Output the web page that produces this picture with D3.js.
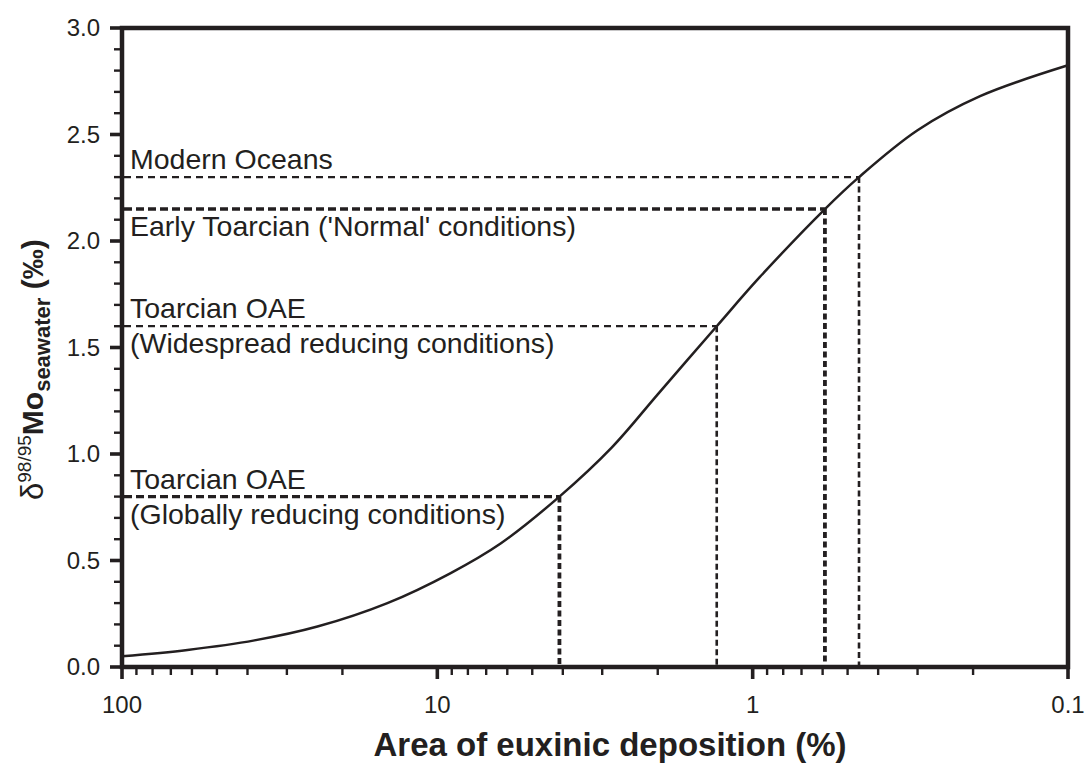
<!DOCTYPE html>
<html>
<head>
<meta charset="utf-8">
<script src="https://cdn.jsdelivr.net/npm/d3@7"></script>
<style>
  body { margin: 0; background: #fff; }
  svg { font-family: Arial, "Liberation Sans", Helvetica, sans-serif; }
</style>
</head>
<body>
<div id="chart"></div>
<script>
// curve: area of euxinic deposition (%) vs d98/95Mo seawater
const areaPct = [100, 62, 38, 24, 14.4, 9.1, 6.3, 4.1, 2.8, 2.0, 1.3, 0.95, 0.59, 0.46, 0.30, 0.19, 0.1];
const deltaMo = [0.05, 0.08, 0.125, 0.19, 0.30, 0.44, 0.58, 0.80, 1.03, 1.28, 1.60, 1.83, 2.15, 2.30, 2.52, 2.68, 2.825];

// reference scenarios (dashed guide lines)
const scenarioArea  = [0.46, 0.59, 1.3, 4.1];
const scenarioDelta = [2.30, 2.15, 1.60, 0.80];
const scenarioAbove = ["Modern Oceans", "", "Toarcian OAE", "Toarcian OAE"];
const scenarioBelow = ["", "Early Toarcian ('Normal' conditions)", "(Widespread reducing conditions)", "(Globally reducing conditions)"];
const scenarioHeavy = [false, true, false, true];

const xMajor = [100, 10, 1, 0.1];
const xMajorLabels = ["100", "10", "1", "0.1"];
const yMajor = [0, 0.5, 1.0, 1.5, 2.0, 2.5, 3.0];

const width = 1088, height = 765;
const margin = {top: 28, right: 20, bottom: 98, left: 122};
const ink = "#231f20";

let svg = d3.select("#chart").append("svg")
    .attr("width", width)
    .attr("height", height);

const x = d3.scaleLog().domain([100, 0.1]).range([margin.left, width - margin.right]);
const y = d3.scaleLinear().domain([0, 3]).range([height - margin.bottom, margin.top]);

// minor ticks
let xMinor = [];
[100, 10, 1].forEach(function(dec) {
    for (let k = 2; k <= 9; k++) xMinor.push(dec / 10 * k);
});
let yMinor = d3.range(0, 31).map(d => d / 10).filter(d => Math.round(d * 10) % 5 != 0);

// x axis
let gx = svg.append("g").attr("transform", `translate(0,${y(0)})`);
gx.selectAll(".minor").data(xMinor).enter().append("line")
    .attr("x1", d => x(d)).attr("x2", d => x(d))
    .attr("y1", 0).attr("y2", 8)
    .style("stroke", ink).style("stroke-width", 2.4);
gx.selectAll(".major").data(xMajor).enter().append("line")
    .attr("x1", d => x(d)).attr("x2", d => x(d))
    .attr("y1", 0).attr("y2", 12)
    .style("stroke", ink).style("stroke-width", 3.6);
gx.selectAll("text").data(xMajor).enter().append("text")
    .attr("x", d => x(d))
    .attr("y", 46)
    .attr("text-anchor", "middle")
    .style("font-size", "24px")
    .style("fill", ink)
    .text((d, i) => xMajorLabels[i]);

// y axis
let gy = svg.append("g").attr("transform", `translate(${x(100)},0)`);
gy.selectAll(".minor").data(yMinor).enter().append("line")
    .attr("x1", 0).attr("x2", -8)
    .attr("y1", d => y(d)).attr("y2", d => y(d))
    .style("stroke", ink).style("stroke-width", 2.4);
gy.selectAll(".major").data(yMajor).enter().append("line")
    .attr("x1", 0).attr("x2", -12)
    .attr("y1", d => y(d)).attr("y2", d => y(d))
    .style("stroke", ink).style("stroke-width", 3.6);
gy.selectAll("text").data(yMajor).enter().append("text")
    .attr("x", -22)
    .attr("y", d => y(d) + 8)
    .attr("text-anchor", "end")
    .style("font-size", "24px")
    .style("fill", ink)
    .text(d => d.toFixed(1));

// frame
svg.append("path")
    .attr("d", `M${x(100)},${y(3)}H${x(0.1)}V${y(0)}H${x(100)}Z`)
    .style("fill", "none")
    .style("stroke", ink)
    .style("stroke-width", 4.5)
    .style("stroke-linejoin", "miter");

// dashed guides
let guides = svg.append("g");
scenarioArea.forEach(function(a, i) {
    let w = scenarioHeavy[i] ? 3.4 : 2.3;
    guides.append("line")
        .attr("x1", x(100) + 2).attr("x2", x(a))
        .attr("y1", y(scenarioDelta[i])).attr("y2", y(scenarioDelta[i]))
        .style("stroke", ink).style("stroke-width", w)
        .style("stroke-dasharray", scenarioHeavy[i] ? "8,4" : "7,5");
    guides.append("line")
        .attr("x1", x(a)).attr("x2", x(a))
        .attr("y1", y(scenarioDelta[i])).attr("y2", y(0) - 2)
        .style("stroke", ink).style("stroke-width", scenarioHeavy[i] ? 3.8 : 2.6)
        .style("stroke-dasharray", "6,3.5");
    if (scenarioAbove[i]) {
        guides.append("text")
            .attr("x", 130).attr("y", y(scenarioDelta[i]) - 8)
            .style("font-size", "28.5px").style("fill", ink)
            .text(scenarioAbove[i]);
    }
    if (scenarioBelow[i]) {
        guides.append("text")
            .attr("x", 130).attr("y", y(scenarioDelta[i]) + 27)
            .style("font-size", "28.5px").style("fill", ink)
            .text(scenarioBelow[i]);
    }
});

// model curve
const line = d3.line()
    .x(d => x(d[0]))
    .y(d => y(d[1]))
    .curve(d3.curveCatmullRom.alpha(0.5));

svg.append("path")
    .datum(areaPct.map((a, i) => [a, deltaMo[i]]))
    .attr("d", line)
    .style("fill", "none")
    .style("stroke", ink)
    .style("stroke-width", 2.5);

// axis titles
svg.append("text")
    .attr("x", 610)
    .attr("y", 756)
    .attr("text-anchor", "middle")
    .style("font-size", "33px")
    .style("font-weight", "bold")
    .style("fill", ink)
    .text("Area of euxinic deposition (%)");

let yt = svg.append("text")
    .attr("transform", "translate(43,500) rotate(-90)")
    .attr("text-anchor", "start")
    .style("fill", ink);
yt.append("tspan").style("font-size", "31px").text("δ");
yt.append("tspan").style("font-size", "19px").attr("dy", -12).text("98/95");
yt.append("tspan").style("font-size", "30px").style("font-weight", "bold").attr("dy", 12).text("Mo");
yt.append("tspan").style("font-size", "22px").style("font-weight", "bold").attr("dy", 7).text("seawater");
yt.append("tspan").style("font-size", "30px").style("font-weight", "bold").attr("dy", -7).text(" (‰)");
</script>
</body>
</html>
